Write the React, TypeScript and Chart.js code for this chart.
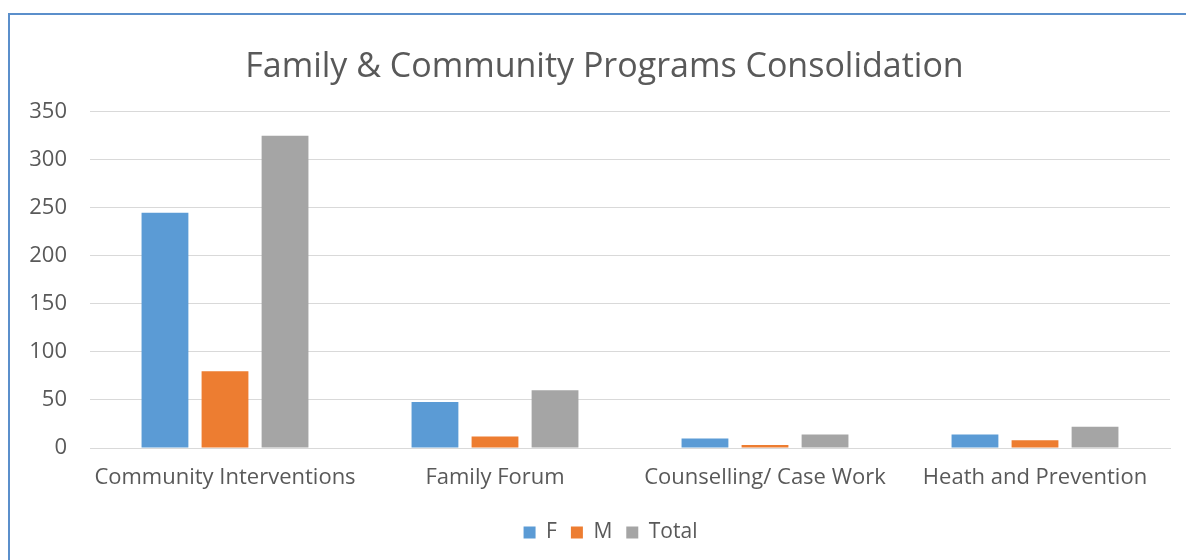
import React, { useEffect, useRef } from "react";
import { Chart, registerables } from "chart.js";

Chart.register(...registerables);

const categories = ["Community Interventions", "Family Forum", "Counselling/ Case Work", "Heath and Prevention"];
const fValues = [245, 48, 10, 14];
const mValues = [80, 12, 3, 8];
const totalValues = [325, 60, 14, 22];
const yTicks = [0, 50, 100, 150, 200, 250, 300, 350];
const titleText = "Family & Community Programs Consolidation";

const FONT = "'Open Sans', 'Noto Sans', sans-serif";

// the reference frame is cropped on the right, so its title and legend sit right of the canvas centre
const blockOffsetPlugin = {
  id: "blockOffset",
  afterLayout(chart: any) {
    const t = chart.titleBlock;
    if (t) {
      t.left += 16;
      t.right += 16;
    }
    const l = chart.legend;
    if (l) {
      l.left += 22;
      l.right += 22;
    }
  },
};

export default function App() {
  const ref = useRef<HTMLCanvasElement | null>(null);
  useEffect(() => {
    document.body.style.margin = "0";
    document.body.style.overflow = "hidden";
    const ctx = ref.current!;
    const chart = new Chart(ctx, {
      type: "bar",
      data: {
        labels: categories,
        datasets: [
          { label: "F", data: fValues, backgroundColor: "#5B9BD5" },
          { label: "M", data: mValues, backgroundColor: "#ED7D31" },
          { label: "Total", data: totalValues, backgroundColor: "#A5A5A5" },
        ],
      },
      plugins: [blockOffsetPlugin],
      options: {
        animation: false,
        responsive: false,
        maintainAspectRatio: false,
        datasets: { bar: { categoryPercentage: 0.667, barPercentage: 0.78 } },
        layout: { padding: { left: 7, right: 16, top: 47, bottom: 7 } },
        plugins: {
          title: {
            display: true,
            text: titleText,
            color: "#595959",
            font: { family: FONT, size: 34, weight: "normal" },
            padding: { top: 0, bottom: 24 },
          },
          legend: {
            position: "bottom",
            labels: {
              color: "#595959",
              font: { family: FONT, size: 21 },
              boxWidth: 12,
              boxHeight: 12,
              padding: 14,
            },
          },
          tooltip: { enabled: false },
        },
        scales: {
          x: {
            grid: { display: false },
            border: { color: "#D9D9D9" },
            ticks: { color: "#595959", font: { family: FONT, size: 22 }, padding: 9 },
            afterFit: (axis: any) => {
              axis.height = 60;
            },
          },
          y: {
            min: 0,
            max: 350,
            afterBuildTicks: (axis: any) => {
              axis.ticks = yTicks.map((v) => ({ value: v }));
            },
            afterFit: (axis: any) => {
              axis.width = 83;
            },
            grid: { color: "#D9D9D9", drawTicks: false },
            border: { display: false },
            ticks: { color: "#595959", font: { family: FONT, size: 22 }, padding: 23 },
          },
        },
      },
    });
    return () => chart.destroy();
  }, []);
  return (
    <div style={{ position: "relative", width: 1186, height: 560, background: "#fff", overflow: "hidden" }}>
      <div
        style={{
          position: "absolute",
          left: 8,
          top: 13,
          width: 1300,
          height: 700,
          borderLeft: "2px solid #5B8FCB",
          borderTop: "2px solid #5B8FCB",
          boxSizing: "border-box",
        }}
      />
      <canvas ref={ref} width={1186} height={560} style={{ position: "absolute", left: 0, top: 0 }} />
    </div>
  );
}
